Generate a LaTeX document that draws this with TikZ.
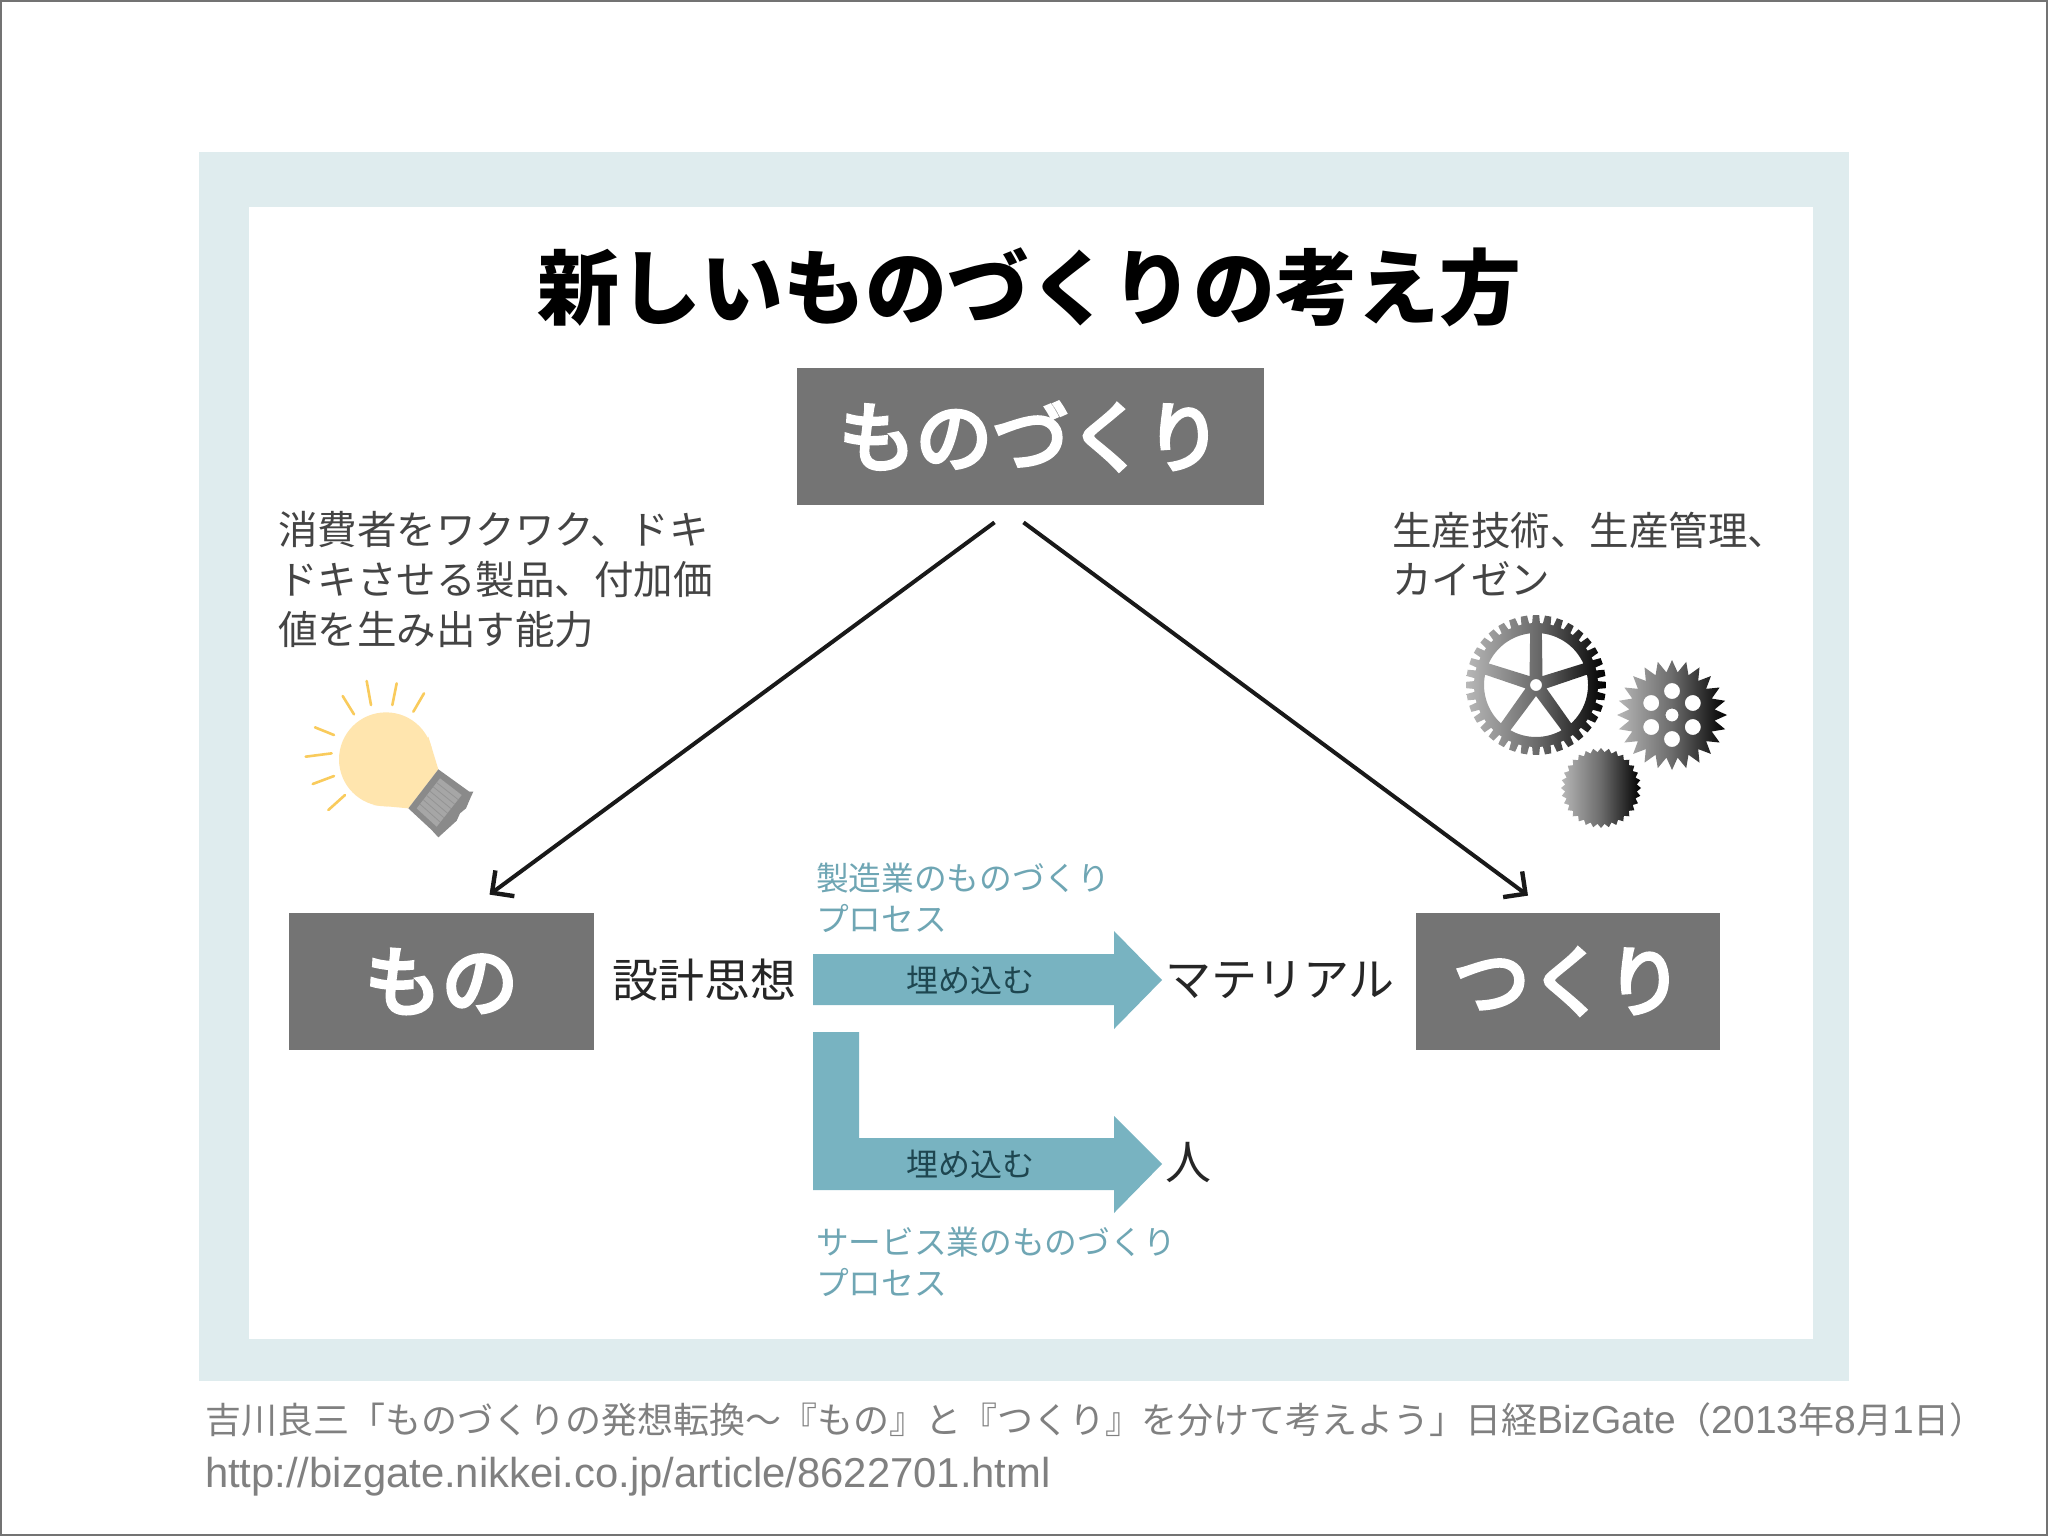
\documentclass[tikz,border=0pt]{standalone}
\usepackage{fontspec}
\usetikzlibrary{calc,arrows.meta}
\setmainfont{Liberation Sans}
\newfontfamily\jp{Noto Sans CJK JP}
\newfontfamily\jpm[FakeBold=5]{Noto Sans CJK JP}
\definecolor{panel}{HTML}{DFECEE}
\definecolor{boxgray}{HTML}{747474}
\definecolor{teal1}{HTML}{78B3C1}
\definecolor{teal2}{HTML}{6FA6B4}
\definecolor{tealdark}{HTML}{1E4650}
\definecolor{bodygray}{HTML}{444444}
\definecolor{capgray}{HTML}{808080}
\definecolor{bulb}{HTML}{FFE5AE}
\definecolor{ray}{HTML}{F9CB5C}
\definecolor{basegray}{HTML}{8A8A8A}
\tikzset{
 txt/.style={inner sep=0pt,outer sep=0pt},
 gbox/.style={fill=boxgray,draw=none,inner sep=0pt,minimum height=68.5pt,text=white,font=\jpm\fontsize{38.3}{44}\selectfont},
 bodytxt/.style={txt,anchor=west,text=bodygray,font=\jp\fontsize{19.75}{24}\selectfont},
 teallab/.style={txt,anchor=west,text=teal2,font=\jp\fontsize{16.35}{20}\selectfont},
 embedtxt/.style={txt,text=tealdark,font=\jp\fontsize{16}{20}\selectfont},
 bigtxt/.style={txt,text=black!85,font=\jp\fontsize{23}{26}\selectfont},
 captxt/.style={txt,anchor=west,text=capgray},
 linkarrow/.style={draw=black!90,line width=2pt,-{Straight Barb[length=8pt,width=16pt,line width=2.2pt]}},
 rayline/.style={draw=ray,line width=1.3pt,line cap=round},
 gearshade/.style={left color=black!28,right color=black,middle color=black!58,even odd rule,draw=none},
}
\begin{document}
\begin{tikzpicture}[x=0.5pt,y=-0.5pt]
\useasboundingbox (0,0) rectangle (2048,1536);
\fill[white] (0,0) rectangle (2048,1536);
\draw[black!55,line width=0.8pt] (0.8,0.8) rectangle (2047.2,1535.2);
\fill[panel] (199,152) rectangle (1849,1381);
\fill[white] (249,207) rectangle (1813,1339);
% title
\node[txt,text=black,font=\jp\bfseries\fontsize{41}{46}\selectfont] (title) at (1029,287) {新しいものづくりの考え方};
% boxes
\node[gbox,minimum width=233.5pt] (top) at (1030.5,436.5) {ものづくり};
\node[gbox,minimum width=152.5pt] (mono) at (441.5,981.5) {もの};
\node[gbox,minimum width=152pt] (tsukuri) at (1568,981.5) {つくり};
% connectors
\coordinate (topL) at ($(top.south)+(-36,17)$);
\coordinate (topR) at ($(top.south)+(-7,17)$);
\coordinate (monoT) at ($(mono.north)+(48,-18)$);
\coordinate (tsuT) at ($(tsukuri.north)+(-40,-17)$);
\draw[linkarrow] (topL) -- (monoT);
\draw[linkarrow] (topR) -- (tsuT);
% side texts
\node[bodytxt] (l1) at (278,530) {消費者をワクワク、ドキ};
\node[bodytxt] (l2) at (278,580) {ドキさせる製品、付加価};
\node[bodytxt] (l3) at (278,630) {値を生み出す能力};
\node[bodytxt] (r1) at (1392,530) {生産技術、生産管理、};
\node[bodytxt] (r2) at (1392,579) {カイゼン};
% bulb
\begin{scope}[shift={(260,480)},x=0.16667pt,y=-0.16667pt]
\foreach \a/\b/\c/\d in {248/648/282/703,320/603/333/675,410/610/397/675,492/640/460/695,165/742/222/765,137/830/215/820,158/912/222/888,205/990/255/945}
  \draw[rayline] (\a,\b) -- (\c,\d);
\fill[bulb] (378,838) circle[radius=141];
\fill[bulb] (505,770) -- (535,868) -- (445,985) -- (340,975) -- cycle;
\fill[basegray] (535,868) -- (628,935) -- (640,935) -- (632,952) -- (618,985) -- (600,1000) -- (590,1022) -- (535,1072) -- (515,1050) -- (445,985) -- cycle;
\fill[black!35] (540,895) -- (605,945) -- (530,1040) -- (470,985) -- cycle;
\foreach \t in {1,2,...,6}
  \draw[black!42,line width=0.4pt] ($(540,895)+(-70*\t/7,90*\t/7)$) -- ($(605,945)+(-75*\t/7,95*\t/7)$);
\end{scope}
% gear 1
\begin{scope}[shift={(1536,685)}]
\shade[gearshade]
  (267:62) \foreach \i in {0,1,...,35} {
    -- ({270+\i*10-3.6}:62) -- ({270+\i*10-2.6}:70) -- ({270+\i*10+2.6}:70) -- ({270+\i*10+3.6}:62) }
  -- cycle
  \foreach \k in {0,1,...,4} {
    ({270+\k*72+6.5}:52) arc[start angle={270+\k*72+6.5},end angle={270+\k*72+72-6.5},radius=52] -- ({270+\k*72+36}:11) -- cycle }
  (0,0) circle[radius=6];
\end{scope}
% gear 2
\begin{scope}[shift={(1672,715)}]
\shade[gearshade]
  (270:55) \foreach \i in {0,1,...,23} {
    -- ({270+\i*15}:55) -- ({270+\i*15+7.5}:43) }
  -- cycle
  (0,0) circle[radius=6.5]
  \foreach \k in {0,60,...,300} { ({270+\k}:24) circle[radius=8] };
\end{scope}
% gear 3
\begin{scope}[shift={(1601,788)}]
\shade[gearshade]
  (270:40) \foreach \i in {0,1,...,31} {
    -- ({270+\i*11.25}:40) -- ({270+\i*11.25+5.6}:36) }
  -- cycle;
\end{scope}
% teal arrows
\fill[teal1] (813,954) -- (1114,954) -- (1114,931) -- (1162,980) -- (1114,1029) -- (1114,1005) -- (813,1005) -- cycle;
\fill[teal1] (813,1032) -- (859,1032) -- (859,1138) -- (1114,1138) -- (1114,1116) -- (1162,1164) -- (1114,1213) -- (1114,1190) -- (813,1190) -- cycle;
\node[embedtxt] (e1) at (970,980) {埋め込む};
\node[embedtxt] (e2) at (970,1164) {埋め込む};
\node[teallab] (t1) at (816,878) {製造業のものづくり};
\node[teallab] (t2) at (816,918) {プロセス};
\node[teallab] (t3) at (816,1242) {サービス業のものづくり};
\node[teallab] (t4) at (816,1282) {プロセス};
\node[bigtxt] (d1) at (704,980) {設計思想};
\node[bigtxt] (d2) at (1280,980) {マテリアル};
\node[bigtxt] (d3) at (1188,1163) {人};
% caption
\node[captxt,font=\fontsize{18}{20}\selectfont] (c1) at (205,1420) {\jp 吉川良三「ものづくりの発想転換〜『もの』と『つくり』を分けて考えよう」日経{\fontsize{19.5}{20}\selectfont\rmfamily BizGate}（{\fontsize{19.5}{20}\selectfont\rmfamily 2013}年{\fontsize{19.5}{20}\selectfont\rmfamily 8}月{\fontsize{19.5}{20}\selectfont\rmfamily 1}日）};
\node[captxt,font=\fontsize{20.9}{24}\selectfont] (c2) at (205,1477) {http://bizgate.nikkei.co.jp/article/8622701.html};
\end{tikzpicture}
\end{document}
